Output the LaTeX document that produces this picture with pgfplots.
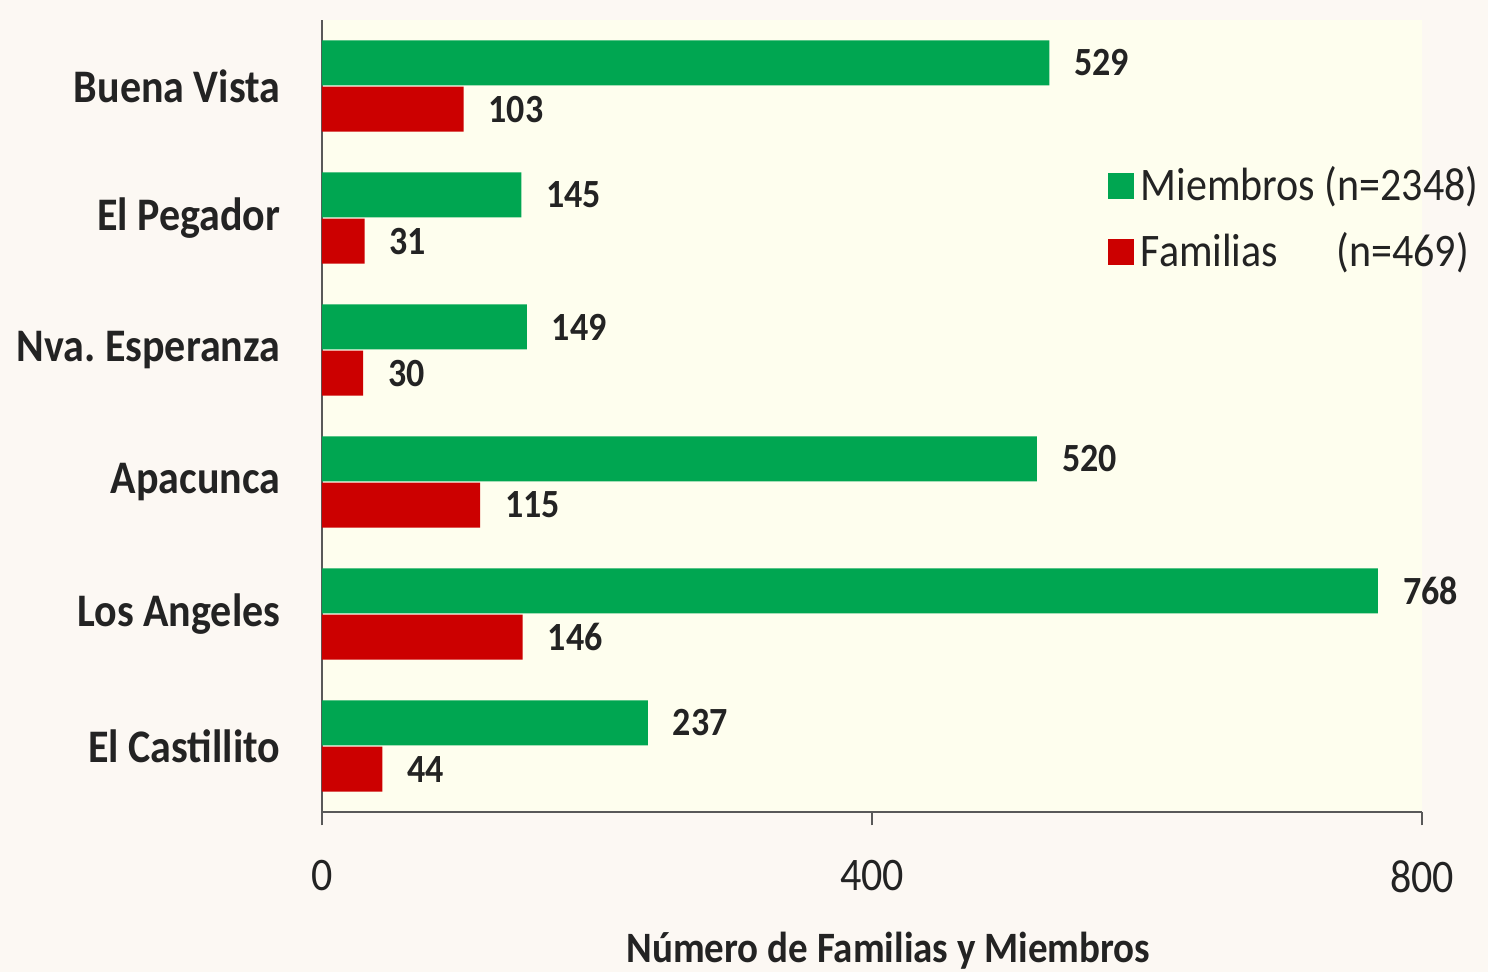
\documentclass[border=0pt]{standalone}
\usepackage{fontspec}
\setmainfont{Carlito}[FakeStretch=0.9]
\usepackage{pgfplots}
\pgfplotsset{compat=1.18}
\definecolor{mgreen}{RGB}{0,166,81}
\definecolor{mred}{RGB}{204,0,0}
\definecolor{plotbg}{RGB}{254,254,238}
\definecolor{pagebg}{RGB}{252,248,243}
\definecolor{txt}{RGB}{35,35,35}
\begin{document}
\begin{tikzpicture}
\fill[pagebg] (-96.6pt,-48pt) rectangle (349.8pt,243.6pt);
\useasboundingbox (-96.6pt,-48pt) rectangle (349.8pt,243.6pt);
\begin{axis}[
  at={(0pt,0pt)}, anchor=south west,
  width=330pt, height=237.6pt, scale only axis,
  xbar, bar width=0.34,
  xmin=0, xmax=800, ymin=-0.5, ymax=5.5,
  axis background/.style={fill=plotbg},
  axis x line*=bottom, axis y line*=left,
  axis line style={black!65, line width=0.8pt},
  xtick={0,400,800}, xtick align=outside, major tick length=4pt,
  xtick style={black!65, line width=0.8pt},
  /pgf/number format/assume math mode=true,
  xticklabel style={font=\fontsize{14}{14}\selectfont, text=txt, yshift=-7pt},
  ytick={0,1,2,3,4,5},
  yticklabels={El Castillito, Los Angeles, Apacunca, Nva.\ Esperanza, El Pegador, Buena Vista},
  ytick style={draw=none},
  yticklabel style={font=\bfseries\fontsize{14}{14}\selectfont, text=txt, xshift=-5pt},
  nodes near coords,
  nodes near coords style={font=\bfseries\fontsize{12}{12}\selectfont, text=txt, xshift=4pt},
  xlabel={Número de Familias y Miembros},
  xlabel style={font=\bfseries\fontsize{13}{13}\selectfont, text=txt, at={(axis description cs:0.515,-0.175)}, anchor=center},
  legend style={at={(0.705,0.833)}, anchor=north west, draw=none, fill=none,
    font=\fontsize{14}{14}\selectfont, text=txt, row sep=4pt},
  legend cell align=left,
  legend image code/.code={\fill[#1] (0pt,-3.9pt) rectangle (7.8pt,3.9pt);},
]
\addplot[fill=mgreen, draw=none, bar shift=0.175] coordinates {
  (529,5) (145,4) (149,3) (520,2) (768,1) (237,0)};
\addlegendentry{Miembros (n=2348)}
\addplot[fill=mred, draw=none, bar shift=-0.175] coordinates {
  (103,5) (31,4) (30,3) (115,2) (146,1) (44,0)};
\addlegendentry{\makebox[58.8pt][l]{Familias}(n=469)}
\end{axis}
\end{tikzpicture}
\end{document}
